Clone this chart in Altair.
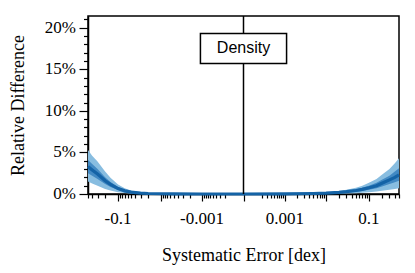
import altair as alt
import pandas as pd

# x positions (systematic error, dex)
x_vals = [-0.5, -0.4, -0.3, -0.2, -0.15, -0.1, -0.07, -0.05, -0.03, -0.02, -0.01, -0.005, -0.001, 0.0,
          0.001, 0.005, 0.01, 0.02, 0.03, 0.05, 0.07, 0.1, 0.15, 0.2, 0.3, 0.4, 0.5]
# relative difference in percent
mean_pct = [3.3, 2.9, 2.4, 1.6, 1.15, 0.65, 0.38, 0.22, 0.10, 0.06, 0.03, 0.015, 0.003, 0.0,
            0.015, 0.06, 0.11, 0.20, 0.28, 0.42, 0.55, 0.75, 1.0, 1.3, 1.7, 2.0, 2.3]
inner_lo = [2.5, 2.2, 1.8, 1.2, 0.85, 0.48, 0.27, 0.15, 0.07, 0.04, 0.02, 0.01, 0.002, 0.0,
            0.01, 0.04, 0.07, 0.13, 0.18, 0.28, 0.37, 0.5, 0.7, 0.9, 1.2, 1.4, 1.6]
inner_hi = [4.1, 3.6, 3.0, 2.0, 1.45, 0.84, 0.5, 0.3, 0.14, 0.08, 0.04, 0.02, 0.004, 0.0,
            0.02, 0.08, 0.15, 0.27, 0.38, 0.57, 0.74, 1.0, 1.35, 1.7, 2.2, 2.7, 3.1]
outer_lo = [1.5, 1.25, 1.0, 0.6, 0.42, 0.22, 0.12, 0.07, 0.03, 0.02, 0.01, 0.005, 0.001, 0.0,
            0.005, 0.02, 0.03, 0.05, 0.07, 0.1, 0.14, 0.2, 0.3, 0.4, 0.5, 0.6, 0.7]
outer_hi = [5.3, 4.6, 3.9, 2.7, 1.95, 1.15, 0.7, 0.42, 0.2, 0.12, 0.06, 0.03, 0.006, 0.0,
            0.03, 0.11, 0.2, 0.35, 0.5, 0.75, 0.98, 1.35, 1.8, 2.3, 3.0, 3.7, 4.3]

x_label_ticks = [-0.1, -0.001, 0.001, 0.1]
x_label_text = ["-0.1", "-0.001", "0.001", "0.1"]
major_ticks = [-0.1, -0.01, -0.001, 0.0, 0.001, 0.01, 0.1]
minor_ticks = []
for dec in [0.0001, 0.001, 0.01]:
    for m in range(2, 10):
        minor_ticks += [round(m * dec, 6), round(-m * dec, 6)]
for m in range(2, 6):
    minor_ticks += [round(m * 0.1, 6), round(-m * 0.1, 6)]

y_major = [0.0, 0.05, 0.10, 0.15, 0.20]
y_label_text = ["0%", "5%", "10%", "15%", "20%"]
y_minor = [i / 100 for i in range(1, 22) if i % 5 != 0]

box_x = [-0.0011]
box_x2 = [0.0011]
box_y = [0.157]
box_y2 = [0.193]
box_label = ["Density"]

df = pd.DataFrame({
    "x": x_vals,
    "mean": [v / 100 for v in mean_pct],
    "in_lo": [v / 100 for v in inner_lo],
    "in_hi": [v / 100 for v in inner_hi],
    "out_lo": [v / 100 for v in outer_lo],
    "out_hi": [v / 100 for v in outer_hi],
})
box_df = pd.DataFrame({"x": box_x, "x2": box_x2, "y": box_y, "y2": box_y2,
                       "label": box_label})
zero_df = pd.DataFrame({"x": [0.0]})
xlab_df = pd.DataFrame({"x": x_label_ticks, "t": x_label_text})
ylab_df = pd.DataFrame({"y": y_major, "t": y_label_text})

xscale = alt.Scale(type="symlog", constant=1.22e-4, domain=[-0.5, 0.5], nice=False, zero=False)
yscale = alt.Scale(domain=[0, 0.214], nice=False, zero=False)

OUTER = "#88bde0"
INNER = "#4289c3"
LINE = "#1463a6"
SERIF = "Liberation Serif"

base = alt.Chart(df)

outer = base.mark_area(color=OUTER).encode(
    x=alt.X("x:Q", scale=xscale, axis=alt.Axis(
        values=major_ticks, orient="bottom", title="Systematic Error [dex]",
        tickSize=7, labels=False, grid=False,
        titleX=155.5, titleY=61, titleBaseline="middle", titleAlign="center")),
    y=alt.Y("out_lo:Q", scale=yscale, axis=alt.Axis(
        values=y_major, orient="left", title="Relative Difference",
        tickSize=9, labels=False, grid=False,
        titleX=-69.5, titleY=89, titleBaseline="middle", titleAlign="center", titleAngle=270)),
    y2="out_hi:Q",
)

inner = base.mark_area(color=INNER).encode(
    x=alt.X("x:Q", scale=xscale, axis=alt.Axis(
        values=minor_ticks, orient="bottom", labels=False, title=None,
        tickSize=4, domain=False, grid=False)),
    y=alt.Y("in_lo:Q", scale=yscale, axis=alt.Axis(
        values=y_minor, orient="left", labels=False, title=None,
        tickSize=4.5, domain=False, grid=False)),
    y2="in_hi:Q",
)

line = base.mark_line(color=LINE, strokeWidth=3.2).encode(
    x=alt.X("x:Q", scale=xscale, axis=None),
    y=alt.Y("mean:Q", scale=yscale, axis=None),
)

zero_rule = alt.Chart(zero_df).mark_rule(color="black", strokeWidth=1.5).encode(
    x=alt.X("x:Q", scale=xscale, axis=None),
)

box = alt.Chart(box_df).mark_rect(fill="white", stroke="black", strokeWidth=1.5).encode(
    x=alt.X("x:Q", scale=xscale, axis=None),
    x2="x2:Q",
    y=alt.Y("y:Q", scale=yscale, axis=None),
    y2="y2:Q",
)

box_text = alt.Chart(box_df).mark_text(
    font="Liberation Sans", fontSize=16, color="black", baseline="middle", align="center"
).encode(
    x=alt.value(155.5),
    y=alt.Y("yc:Q", scale=yscale, axis=None),
    text="label:N",
).transform_calculate(yc="(datum.y + datum.y2) / 2")

x_labels = alt.Chart(xlab_df).mark_text(
    font=SERIF, fontSize=17, color="black", baseline="middle", align="center", clip=False
).encode(
    x=alt.X("x:Q", scale=xscale, axis=None),
    y=alt.value(203),
    text="t:N",
)

y_labels = alt.Chart(ylab_df).mark_text(
    font=SERIF, fontSize=17, color="black", baseline="middle", align="right", clip=False
).encode(
    x=alt.value(-12),
    y=alt.Y("y:Q", scale=yscale, axis=None),
    text="t:N",
)

chart = alt.layer(outer, inner, line, zero_rule, box, box_text, x_labels, y_labels).resolve_axis(
    x="independent", y="independent"
).properties(
    width=311, height=178,
    padding={"left": 80, "top": 8, "right": 8, "bottom": 71},
    autosize=alt.AutoSizeParams(type="none"),
).configure_view(
    stroke="black", strokeWidth=1.5
).configure_axis(
    titleFont=SERIF, titleFontSize=18, titleFontWeight="normal", titleColor="black",
    tickColor="black", tickWidth=1.2, domainColor="black", domainWidth=1.5,
)

chart.save("out.html", embed_options={"renderer": "svg", "actions": False})
